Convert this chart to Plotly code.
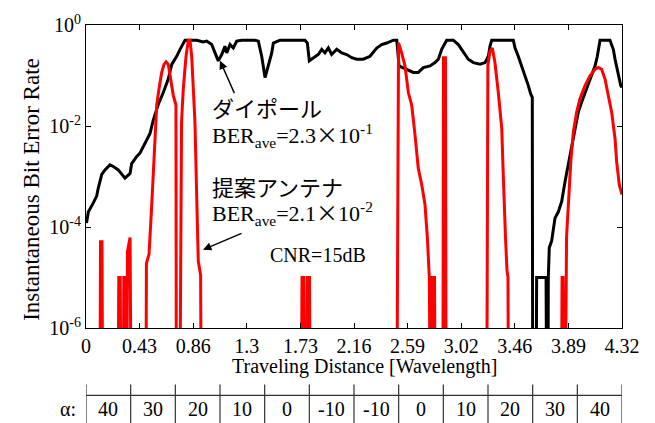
import plotly.graph_objects as go

ZERO = 1e-7  # BER = 0 (drawn below the axis floor)

dipole_x = [0.004, 0.019, 0.059, 0.086, 0.099, 0.127, 0.153, 0.193, 0.220, 0.260, 0.314, 0.355, 0.368,
            0.409, 0.435, 0.462, 0.489, 0.516, 0.542, 0.583, 0.623, 0.663, 0.691, 0.717, 0.731, 0.758,
            0.771, 0.798, 0.892, 0.919, 0.945, 0.973, 1.013, 1.040, 1.066, 1.094, 1.120, 1.134, 1.161,
            1.187, 1.215, 1.255, 1.362, 1.389, 1.416, 1.443, 1.469, 1.497, 1.510, 1.564, 1.765, 1.784,
            1.800, 1.832, 1.872, 1.900, 1.926, 1.953, 1.980, 2.021, 2.061, 2.101, 2.142, 2.182, 2.235,
            2.289, 2.343, 2.383, 2.424, 2.477, 2.505, 2.523, 2.585, 2.638, 2.678, 2.719, 2.773, 2.813,
            2.840, 2.853, 2.867, 2.907, 2.960, 3.001, 3.028, 3.055, 3.081, 3.122, 3.176, 3.216, 3.243,
            3.256, 3.270, 3.444, 3.458, 3.484, 3.512, 3.538, 3.565, 3.584, 3.597, 3.600, 3.629, 3.632,
            3.708, 3.712, 3.724, 3.726, 3.734, 3.753, 3.780, 3.807, 3.834, 3.861, 3.887, 3.915, 3.941,
            3.968, 3.995, 4.036, 4.076, 4.103, 4.121, 4.143, 4.223, 4.250, 4.264, 4.290, 4.310, 4.320]
dipole_ber = [1.2e-4, 2.0e-4, 3.0e-4, 4.1e-4, 5.9e-4, 1.1e-3, 1.35e-3, 1.7e-3, 1.58e-3, 1.35e-3, 9.3e-4,
              1.15e-3, 1.8e-3, 2.5e-3, 2.9e-3, 3.9e-3, 5.2e-3, 7.1e-3, 1.3e-2, 2.7e-2, 4.6e-2, 8.5e-2,
              0.166, 0.21, 0.24, 0.33, 0.38, 0.5, 0.5, 0.48, 0.46, 0.48, 0.41, 0.28, 0.195, 0.26, 0.38,
              0.28, 0.41, 0.35, 0.48, 0.5, 0.5, 0.48, 0.24, 0.091, 0.155, 0.28, 0.44, 0.5, 0.5, 0.44,
              0.195, 0.225, 0.26, 0.33, 0.28, 0.35, 0.26, 0.33, 0.28, 0.26, 0.225, 0.21, 0.21, 0.24,
              0.35, 0.41, 0.44, 0.5, 0.5, 0.155, 0.133, 0.115, 0.115, 0.143, 0.155, 0.18, 0.21, 0.26,
              0.33, 0.5, 0.5, 0.41, 0.33, 0.26, 0.21, 0.18, 0.167, 0.18, 0.24, 0.38, 0.5, 0.5, 0.35,
              0.24, 0.155, 0.099, 0.063, 0.043, 0.037, ZERO, ZERO, 1e-5, 1e-5, ZERO, ZERO, 1e-5, 3.9e-5,
              5.3e-5, 1.5e-4, 2.0e-4, 3.2e-4, 8.0e-4, 1.7e-3, 3.6e-3, 7.6e-3, 1.9e-2, 3.0e-2, 5.4e-2,
              0.099, 0.155, 0.24, 0.5, 0.5, 0.33, 0.21, 0.115, 0.063, 0.058]

prop_x = [0.0, 0.113, 0.117, 0.129, 0.133, 0.260, 0.264, 0.276, 0.280, 0.301, 0.305, 0.322, 0.326, 0.330,
          0.334, 0.355, 0.362, 0.484, 0.487, 0.508, 0.530, 0.548, 0.570, 0.588, 0.610, 0.629, 0.645,
          0.663, 0.683, 0.704, 0.725, 0.728, 0.758, 0.770, 0.784, 0.806, 0.825, 0.838, 0.852, 0.865,
          0.878, 0.897, 0.905, 0.924, 0.927, 1.737, 1.741, 1.757, 1.761, 1.781, 1.785, 1.801, 1.805,
          2.507, 2.519, 2.544, 2.571, 2.598, 2.625, 2.652, 2.678, 2.706, 2.732, 2.751, 2.767, 2.773,
          2.786, 2.789, 2.809, 2.813, 2.877, 2.881, 2.897, 2.902, 3.231, 3.239, 3.256, 3.275, 3.296,
          3.323, 3.351, 3.361, 3.369, 3.381, 3.393, 3.401, 3.404, 3.833, 3.837, 3.845, 3.849, 3.865,
          3.873, 3.887, 3.907, 3.928, 3.955, 3.982, 4.022, 4.062, 4.103, 4.129, 4.156, 4.183, 4.209,
          4.237, 4.264, 4.277, 4.298, 4.320]
prop_ber = [ZERO, ZERO, 5.1e-5, 5.1e-5, ZERO, ZERO, 1e-5, 1e-5, ZERO, ZERO, 1e-5, 1e-5, ZERO, ZERO,
            3.2e-5, 6.2e-5, ZERO, ZERO, 1.9e-5, 2.9e-5, 2.8e-4, 2.7e-3, 2.6e-2, 5.4e-2, 0.115, 0.166,
            0.186, 0.166, 0.085, 0.040, 0.026, ZERO, ZERO, 0.012, 0.054, 0.24, 0.5, 0.5, 0.24, 0.054,
            0.012, 1.3e-4, 2.1e-5, 1.1e-5, ZERO, ZERO, 1e-5, 1e-5, ZERO, ZERO, 1e-5, 1e-5, ZERO,
            ZERO, 0.44, 0.28, 0.155, 0.046, 0.026, 6.6e-3, 1.45e-3, 6.9e-4, 2.8e-4, 6.2e-5, 1e-5, ZERO,
            ZERO, 1e-5, 1e-5, ZERO, ZERO, 0.225, 0.225, ZERO, ZERO, 0.16, 0.30, 0.35, 0.18,
            0.046, 8.9e-3, 1.5e-3, 2.8e-4, 6.2e-5, 1.4e-5, 1e-5, ZERO, ZERO, 1e-5, 1e-5, ZERO, ZERO,
            6.2e-5, 2.4e-4, 1.95e-3, 7.6e-3, 1.9e-2, 3.5e-2, 6.3e-2, 0.099, 0.133, 0.144, 0.133, 0.085,
            0.040, 0.0186, 5.6e-3, 1.95e-3, 6.9e-4, 4.4e-4]

x_tickvals = [0, 0.432, 0.864, 1.296, 1.728, 2.16, 2.592, 3.024, 3.456, 3.888, 4.32]
x_ticktext = ["0", "0.43", "0.86", "1.3", "1.73", "2.16", "2.59", "3.02", "3.46", "3.89", "4.32"]
y_tickvals = [1e-6, 1e-4, 1e-2, 1]
y_ticktext = ["10<sup>-6</sup>", "10<sup>-4</sup>", "10<sup>-2</sup>", "10<sup>0</sup>"]
alpha_values = [40, 30, 20, 10, 0, -10, -10, 0, 10, 20, 30, 40]

SERIF = "Liberation Serif, Times New Roman, serif"
JP = "Noto Sans CJK JP"

fig = go.Figure()
fig.add_trace(go.Scatter(x=dipole_x, y=dipole_ber, mode="lines",
                         line=dict(color="black", width=3), showlegend=False))
fig.add_trace(go.Scatter(x=prop_x, y=prop_ber, mode="lines",
                         line=dict(color="#ff0000", width=3), showlegend=False))

fig.update_layout(
    width=655, height=423,
    margin=dict(l=86, r=33, t=22, b=95),
    paper_bgcolor="white", plot_bgcolor="white",
    font=dict(family=SERIF, size=20, color="black"),
    xaxis=dict(range=[0, 4.32], tickvals=x_tickvals, ticktext=x_ticktext,
               ticks="inside", ticklen=5, tickwidth=1, tickcolor="black",
               showline=True, linecolor="black", linewidth=1.2, mirror="ticks",
               showgrid=False, zeroline=False, tickfont=dict(family=SERIF, size=20)),
    yaxis=dict(type="log", range=[-6, 0], tickvals=y_tickvals, ticktext=y_ticktext,
               ticks="inside", ticklen=5, tickwidth=1, tickcolor="black",
               showline=True, linecolor="black", linewidth=1.2, mirror="ticks",
               showgrid=False, zeroline=False, tickfont=dict(family=SERIF, size=20)),
)

annotations = []
# axis titles
annotations.append(dict(text="Traveling Distance [Wavelength]", xref="paper", yref="paper",
                        x=0.519, y=-0.127, showarrow=False, xanchor="center", yanchor="middle",
                        font=dict(family=SERIF, size=20)))
annotations.append(dict(text="Instantaneous Bit Error Rate", xref="paper", yref="paper",
                        x=-0.101, y=0.459, showarrow=False, textangle=-90,
                        xanchor="center", yanchor="middle", font=dict(family=SERIF, size=23)))
# labels in plot
times = '<span style="font-family:Noto Sans CJK JP">×</span>'
annotations.append(dict(text="ダイポール", x=0.999, y=-1.63, xref="x", yref="y", showarrow=False,
                        xanchor="left", yanchor="middle", font=dict(family=JP, size=22)))
annotations.append(dict(text="BER<sub>ave</sub>=2.3" + times + "10<sup>-1</sup>", x=0.999, y=-2.16,
                        xref="x", yref="y", showarrow=False, xanchor="left", yanchor="middle",
                        font=dict(family=SERIF, size=22)))
annotations.append(dict(text="提案アンテナ", x=0.999, y=-3.19, xref="x", yref="y", showarrow=False,
                        xanchor="left", yanchor="middle", font=dict(family=JP, size=22)))
annotations.append(dict(text="BER<sub>ave</sub>=2.1" + times + "10<sup>-2</sup>", x=0.999, y=-3.71,
                        xref="x", yref="y", showarrow=False, xanchor="left", yanchor="middle",
                        font=dict(family=SERIF, size=22)))
annotations.append(dict(text="CNR=15dB", x=1.870, y=-4.549, xref="x", yref="y", showarrow=False,
                        xanchor="center", yanchor="middle", font=dict(family=SERIF, size=20)))
# arrows
annotations.append(dict(text="", x=1.080, y=-0.706, xref="x", yref="y", showarrow=True,
                        ax=15, ay=34, arrowhead=2, arrowsize=1.2, arrowwidth=1.4, arrowcolor="black"))
annotations.append(dict(text="", x=0.943, y=-4.451, xref="x", yref="y", showarrow=True,
                        ax=40, ay=-17, arrowhead=2, arrowsize=1.2, arrowwidth=1.4, arrowcolor="black"))

# alpha table below the axis
cell_w = 4.32 / len(alpha_values)
shapes = [dict(type="line", xref="x", yref="paper", x0=0, x1=4.32, y0=-0.2222, y1=-0.2222,
               line=dict(color="#333333", width=1.2))]
for i in range(len(alpha_values) + 1):
    shapes.append(dict(type="line", xref="x", yref="paper", x0=i * cell_w, x1=i * cell_w,
                       y0=-0.1863, y1=-0.33, line=dict(color="#333333", width=1.2)))
for i, a in enumerate(alpha_values):
    annotations.append(dict(text=str(a), x=(i + 0.5) * cell_w, y=-0.268, xref="x", yref="paper",
                            showarrow=False, xanchor="center", yanchor="middle",
                            font=dict(family=SERIF, size=20)))
annotations.append(dict(text="α:", x=-0.0336, y=-0.268, xref="paper", yref="paper",
                        showarrow=False, xanchor="center", yanchor="middle",
                        font=dict(family=SERIF, size=20)))

fig.update_layout(annotations=annotations, shapes=shapes)
fig.write_html("out.html")
